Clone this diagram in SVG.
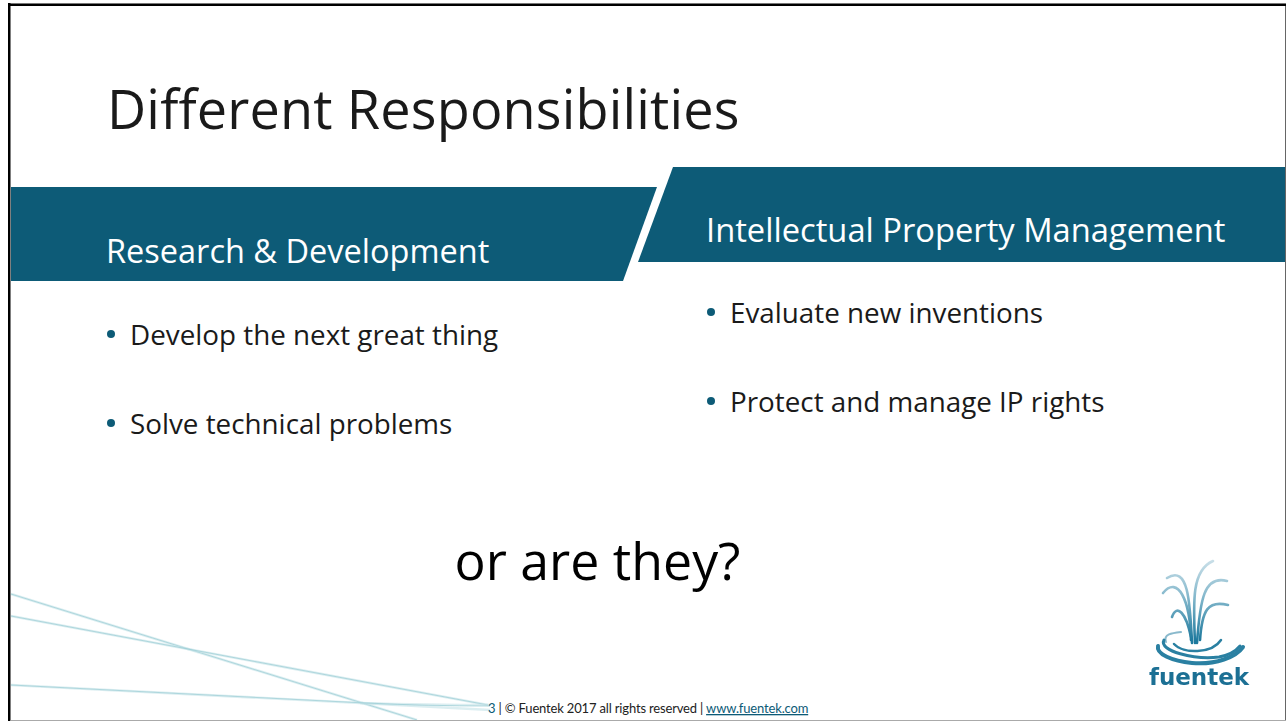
<svg xmlns="http://www.w3.org/2000/svg" width="1286" height="721" viewBox="0 0 1286 721">
<style>
.m{font-family:"Open Sans","Noto Sans",sans-serif}
.b{fill:#0d5b77}
.w{fill:#fff}
.t{fill:#1a1a1a}
.d{fill:#0d5b77}
.f{font-family:Lato,"Liberation Sans",sans-serif;font-size:13px;letter-spacing:-.165px;fill:#222}
.sw{fill:none;stroke:#86c2cc;stroke-opacity:.55;stroke-width:1}
.sw2{fill:none;stroke:#c5e3e8;stroke-opacity:.6;stroke-width:2.6}
.j{fill:none;stroke:url(#jet);stroke-linecap:round;stroke-width:2.600}
.r{fill:none;stroke:#2a80a2;stroke-linecap:round}
</style>
<defs>
<filter id="bl" x="-10%" y="-10%" width="120%" height="120%"><feGaussianBlur stdDeviation=".75"/></filter>
<linearGradient id="jet" gradientUnits="userSpaceOnUse" x1="0" y1="560" x2="0" y2="640"><stop offset="0" stop-color="#c9dfe8"/><stop offset=".45" stop-color="#86b9cd"/><stop offset="1" stop-color="#1f7a9e"/></linearGradient>
</defs>
<rect width="1286" height="721" fill="#fff"/>
<g id="swoosh">
<path class="sw2" d="M11 594L417 720"/><path class="sw" d="M11 594L417 720"/>
<path class="sw2" d="M11 616L488 705"/><path class="sw" d="M11 616L488 705"/>
<path class="sw2" d="M11 685L360 703L490 710"/>
<path class="sw2" d="M360 703Q430 705 490 705"/>
<path class="sw" d="M11 685L365 703Q430 706 490 706"/>
</g>
<g id="title"><text class="m t" x="107" y="129" font-size="54" letter-spacing=".16">Different Responsibilities</text></g>
<g id="left-banner">
<path class="b" d="M11 187H657L623 281H11Z"/>
<text class="m w" x="106" y="263" font-size="32.500">Research &amp; Development</text>
</g>
<g id="right-banner">
<path class="b" d="M673 167H1285V262H638Z"/>
<text class="m w" x="706" y="242" font-size="32.700">Intellectual Property Management</text>
</g>
<g id="left-list" class="m" font-size="27.800">
<circle class="d" cx="111" cy="334" r="4"/><text class="t" x="130" y="345">Develop the next great thing</text>
<circle class="d" cx="111" cy="423" r="4"/><text class="t" x="130" y="434">Solve technical problems</text>
</g>
<g id="right-list" class="m" font-size="27.800">
<circle class="d" cx="711" cy="312" r="4"/><text class="t" x="730" y="323">Evaluate new inventions</text>
<circle class="d" cx="711" cy="401" r="4"/><text class="t" x="730" y="412">Protect and manage IP rights</text>
</g>
<g id="question"><text x="597.500" y="580" text-anchor="middle" font-size="51.800" fill="#000" font-family="'Open Sans','Noto Sans',sans-serif">or are they?</text></g>
<g id="footer">
<text class="f" x="488" y="713"><tspan fill="#0d5b77">3</tspan> | © Fuentek 2017 all rights reserved | <tspan fill="#0d5b77" text-decoration="underline">www.fuentek.com</tspan></text>
</g>
<g id="logo">
<g filter="url(#bl)">
<path class="j" d="M1195 643C1193 600 1192 570 1213 561"/>
<path class="j" d="M1192 643C1190 600 1188 565 1167 578"/>
<path class="j" d="M1197 643C1200 600 1204 575 1227 581"/>
<path class="j" d="M1191 640C1190 600 1178 575 1163 593"/>
<path class="j" d="M1200 640C1202 610 1208 600 1228 605"/>
<path class="j" d="M1191 637C1186 613 1177 603 1172 617"/>
<path class="r" stroke-width="2.500" d="M1174 644C1183 654 1212 654 1221 640"/>
<path class="r" stroke-width="2" stroke-opacity=".55" d="M1166 642C1163 634 1172 633 1181 632"/>
<path class="r" stroke-width="3" d="M1164 640C1158 651 1195 660 1219 657C1230 655 1236 651 1240 646"/>
<path class="r" stroke-width="4" d="M1158 646C1156 654 1172 661 1192 663C1216 665 1236 657 1243 647"/>
<text x="1199" y="685" text-anchor="middle" font-family="'DejaVu Sans',sans-serif" font-weight="bold" font-size="23" fill="#1d6f94">fuentek</text>
</g>
</g>
<g id="frame">
<rect x="8" y="3" width="1278" height="1" fill="#777"/>
<rect x="8" y="4" width="1278" height="2" fill="#000"/>
<rect x="8" y="3" width="2.500" height="718" fill="#000"/>
<rect x="1285" y="6" width="1" height="715" fill="#666"/>
<rect x="10.500" y="720" width="1275.500" height="1" fill="#aaa"/>
</g>
</svg>
